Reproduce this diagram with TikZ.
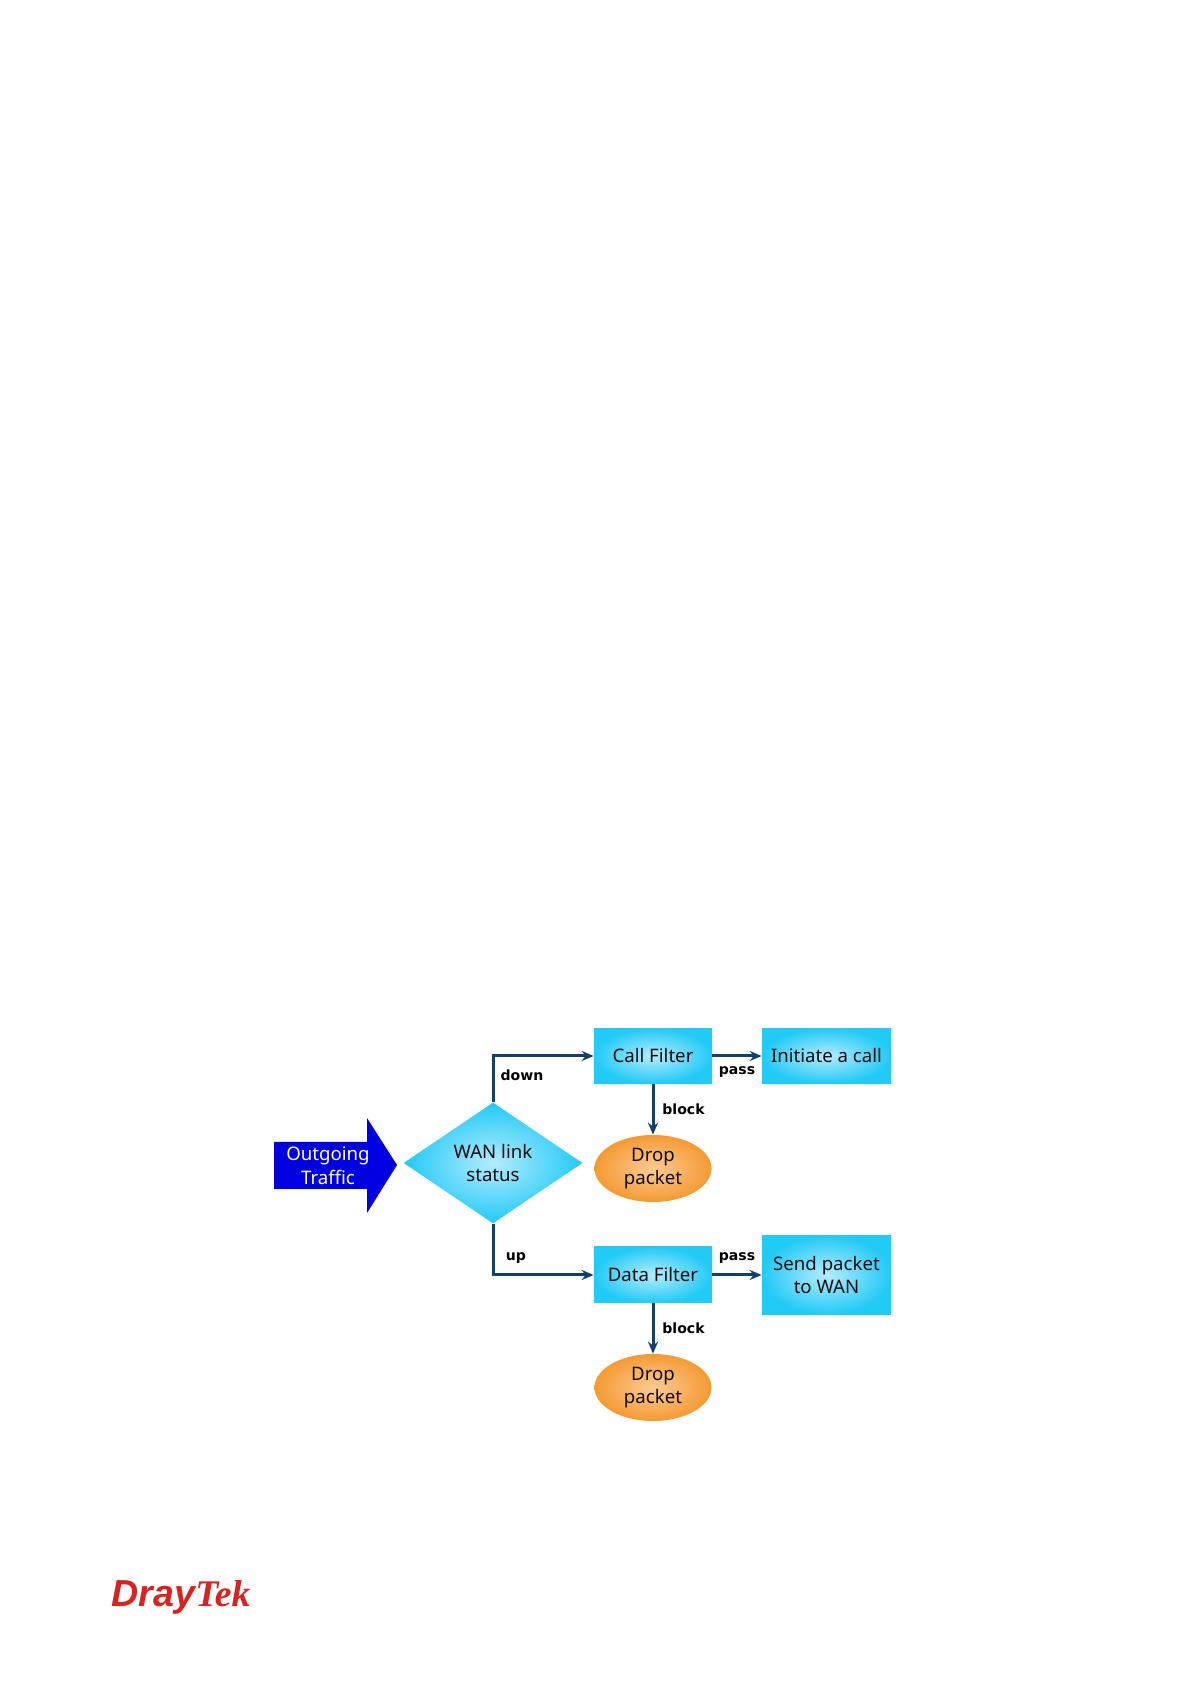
\documentclass[tikz,border=0pt]{standalone}
\usepackage{fontspec}
\setmainfont{Noto Sans}
\newfontfamily\labelfont{DejaVu Sans}
\newfontfamily\logoserif{Liberation Serif}
\newfontfamily\logosans{Liberation Sans}
\usetikzlibrary{arrows.meta,shapes.geometric}
\definecolor{flowblue}{HTML}{123F6E}
\definecolor{boxcyan}{HTML}{22CAF6}
\definecolor{boxpale}{HTML}{B4ECFD}
\definecolor{droporange}{HTML}{F59A33}
\definecolor{droppale}{HTML}{FCCB94}
\definecolor{logored}{HTML}{D8231F}

\begin{document}
\begin{tikzpicture}[>={Stealth[length=2.4mm,width=2mm]},line cap=round,
  shape text/.style={font=\fontsize{10.6}{13.4}\selectfont,align=center,text=black!95,inner sep=0pt},
  filterbox/.style={shape text,rectangle,inner color=boxpale,outer color=boxcyan},
  statusbox/.style={shape text,diamond,aspect=1.48,minimum width=3.58cm,minimum height=2.42cm,inner color=boxpale,outer color=boxcyan},
  dropbox/.style={shape text,ellipse,minimum width=2.34cm,minimum height=1.34cm,inner color=droppale,outer color=droporange},
  flow/.style={->,flowblue,line width=0.06cm,line cap=butt},
  flow label/.style={font=\labelfont\bfseries\fontsize{8}{9}\selectfont,inner sep=0pt}]
\useasboundingbox (0,0) rectangle (23.8,33.68);
\fill[white] (0,0) rectangle (23.8,33.68);
% incoming arrow
\fill[blue!88!black] (5.48,10.84) -- (7.34,10.84) -- (7.34,11.32) -- (7.94,10.38) -- (7.34,9.42) -- (7.34,9.90) -- (5.48,9.90) -- cycle;
\node[shape text,text=white] (outgoing) at (6.56,10.36) {Outgoing\\Traffic};
% boxes
\node[statusbox] (status) at (9.86,10.42) {WAN link\\status};
\node[filterbox,minimum width=2.36cm,minimum height=1.10cm] (callfilter) at (13.06,12.56) {Call Filter};
\node[filterbox,minimum width=2.58cm,minimum height=1.10cm] (initiate) at (16.53,12.56) {Initiate a call};
\node[dropbox] (dropa) at (13.06,10.31) {Drop\\packet};
\node[filterbox,minimum width=2.36cm,minimum height=1.12cm] (datafilter) at (13.06,8.18) {Data Filter};
\node[filterbox,minimum width=2.58cm,minimum height=1.58cm] (send) at (16.53,8.18) {Send packet\\to WAN};
\node[dropbox] (dropb) at (13.06,5.93) {Drop\\packet};
% connectors
\draw[flow] (status.north) |- (callfilter.west);
\draw[flow] (status.south) |- (datafilter.west);
\draw[flow] (callfilter.east) -- (initiate.west);
\draw[flow] (datafilter.east) -- (send.west);
\draw[flow] (callfilter.south) -- (dropa.north);
\draw[flow] (datafilter.south) -- (dropb.north);
\node[flow label] (down) at (10.44,12.18) {down};
\node[flow label] (up) at (10.32,8.52) {up};
\node[flow label] (passa) at (14.74,12.23) {pass};
\node[flow label] (passb) at (14.74,8.51) {pass};
\node[flow label] (blocka) at (13.67,11.5) {block};
\node[flow label] (blockb) at (13.67,7.12) {block};
% logo
\node[text=logored,inner sep=0pt,font=\fontsize{21.4}{24}\selectfont] (logo) at (3.62,1.74) {{\logosans\bfseries\itshape Dray}{\logoserif\bfseries\itshape Tek}};
\end{tikzpicture}
\end{document}
